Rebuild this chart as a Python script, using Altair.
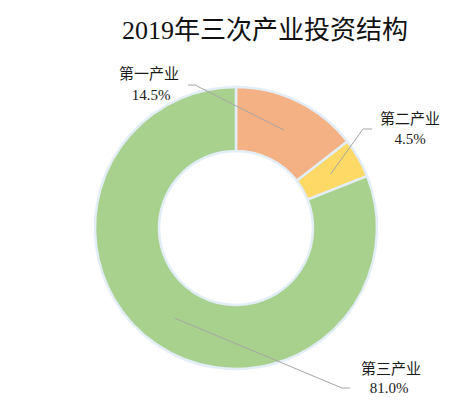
import math
import altair as alt
import pandas as pd

# ---- data ----
categories = ["第一产业", "第二产业", "第三产业"]
shares = [14.5, 4.5, 81.0]
pct_labels = ["14.5%", "4.5%", "81.0%"]
colors = ["#F4B183", "#FFD966", "#A9D18E"]
title_text = "2019年三次产业投资结构"

# ---- layout (chart coords; page offset 8px) ----
W, H = 448, 388
CX, CY = 228, 220
R_OUT, R_IN = 141, 77
R_ANCHOR = 109
elbows = [(187, 77), (355, 121), (334, 380)]
ends = [(180, 77), (364, 121), (342, 380)]
name_pos = [(141, 66), (402, 111), (383, 361)]
pct_pos = [(143, 87), (402, 131), (381, 380)]
FONT = "Liberation Serif, Noto Sans CJK SC"

df = pd.DataFrame({"cat": categories, "share": shares, "order": [0, 1, 2]})

# leader lines computed from slice mid-angles
rows = []
total = sum(shares)
cum = 0.0
for i, s in enumerate(shares):
    mid = (cum + s / 2) / total * 2 * math.pi
    cum += s
    ax = CX + R_ANCHOR * math.sin(mid)
    ay = CY - R_ANCHOR * math.cos(mid)
    pts = [(ax, ay), elbows[i], ends[i]]
    for k, (px, py) in enumerate(pts):
        rows.append({"cat": categories[i], "k": k, "x": px, "y": H - py})
lines_df = pd.DataFrame(rows)

lab_rows = []
for i in range(3):
    lab_rows.append({"t": categories[i], "x": name_pos[i][0], "y": H - name_pos[i][1]})
    lab_rows.append({"t": pct_labels[i], "x": pct_pos[i][0], "y": H - pct_pos[i][1]})
lab_df = pd.DataFrame(lab_rows)

xs = alt.Scale(domain=[0, W], nice=False, zero=False)
ys = alt.Scale(domain=[0, H], nice=False, zero=False)

donut = alt.Chart(df).mark_arc(
    outerRadius=R_OUT, innerRadius=R_IN, stroke="#E3EEF9", strokeWidth=2.5
).encode(
    theta=alt.Theta("share:Q", stack=True),
    color=alt.Color("cat:N", scale=alt.Scale(domain=categories, range=colors), legend=None),
    order=alt.Order("order:Q"),
    x=alt.value(CX),
    y=alt.value(CY),
)

ring = alt.Chart(pd.DataFrame({"v": [1]})).mark_arc(
    outerRadius=R_OUT + 1, innerRadius=R_OUT - 0.5, color="#C9DCF0"
).encode(theta=alt.Theta("v:Q"), x=alt.value(CX), y=alt.value(CY))

ring_in = alt.Chart(pd.DataFrame({"v": [1]})).mark_arc(
    outerRadius=R_IN + 0.5, innerRadius=R_IN - 1, color="#C9DCF0"
).encode(theta=alt.Theta("v:Q"), x=alt.value(CX), y=alt.value(CY))

leaders = alt.Chart(lines_df).mark_line(color="#A6A6A6", strokeWidth=1).encode(
    x=alt.X("x:Q", scale=xs, axis=None),
    y=alt.Y("y:Q", scale=ys, axis=None),
    detail="cat:N",
    order="k:Q",
)

labels = alt.Chart(lab_df).mark_text(
    font=FONT, fontSize=15, color="#1a1a1a", align="center", baseline="middle"
).encode(
    x=alt.X("x:Q", scale=xs, axis=None),
    y=alt.Y("y:Q", scale=ys, axis=None),
    text="t:N",
)

title = alt.Chart(pd.DataFrame({"t": [title_text]})).mark_text(
    font=FONT, fontSize=26, color="#111111", align="center", baseline="middle"
).encode(x=alt.value(257), y=alt.value(23), text="t:N")

chart = alt.layer(ring, ring_in, donut, leaders, labels, title).properties(
    width=W, height=H, padding=0, autosize=alt.AutoSizeParams(type="none")
).configure_view(strokeOpacity=0, strokeWidth=0)

chart.save("out.html", embed_options={"renderer": "svg", "actions": False})
